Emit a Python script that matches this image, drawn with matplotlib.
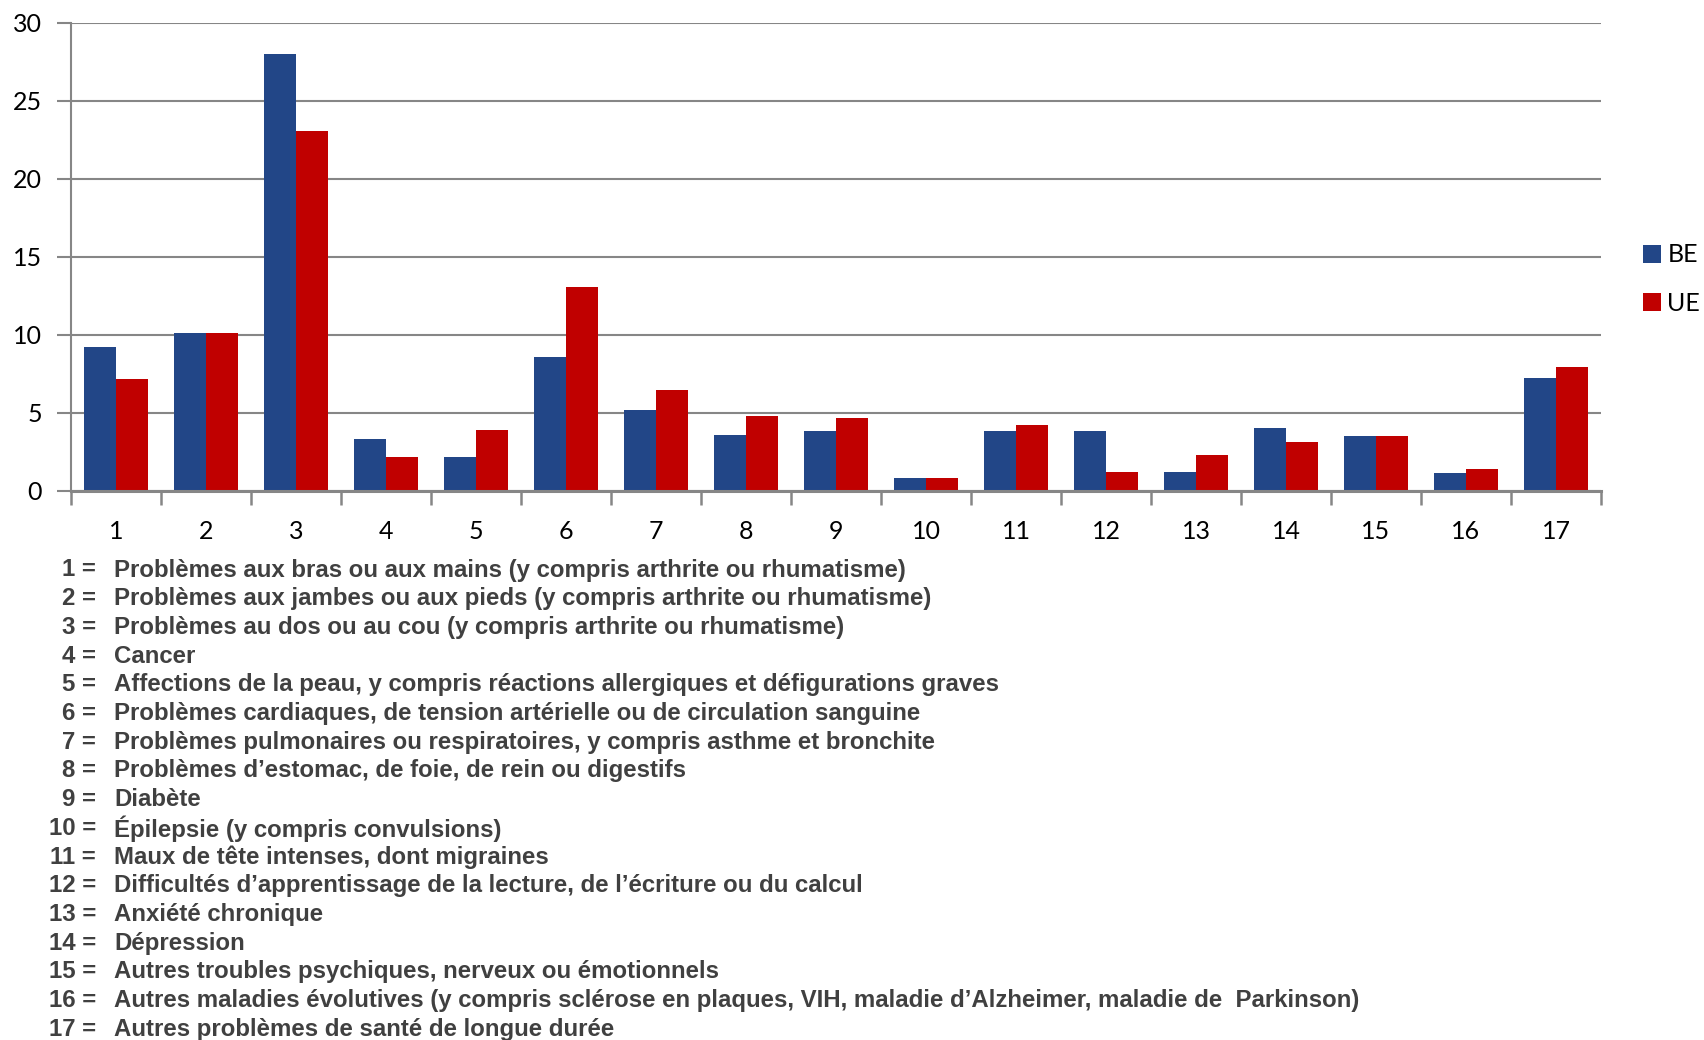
import numpy as np
import matplotlib.pyplot as plt
from matplotlib.ticker import FixedLocator

# Share (%) of people with each long-standing health problem, BE vs UE
categories = [str(i) for i in range(1, 18)]
be_values = [9.2, 10.1, 28.0, 3.35, 2.15, 8.6, 5.2, 3.6, 3.85, 0.83,
             3.85, 3.85, 1.22, 4.05, 3.55, 1.15, 7.25]
ue_values = [7.15, 10.1, 23.1, 2.15, 3.9, 13.05, 6.5, 4.8, 4.7, 0.83,
             4.2, 1.22, 2.3, 3.15, 3.55, 1.42, 7.95]
series_names = ['BE', 'UE']

footnotes = [
    "Problèmes aux bras ou aux mains (y compris arthrite ou rhumatisme)",
    "Problèmes aux jambes ou aux pieds (y compris arthrite ou rhumatisme)",
    "Problèmes au dos ou au cou (y compris arthrite ou rhumatisme)",
    "Cancer",
    "Affections de la peau, y compris réactions allergiques et défigurations graves",
    "Problèmes cardiaques, de tension artérielle ou de circulation sanguine",
    "Problèmes pulmonaires ou respiratoires, y compris asthme et bronchite",
    "Problèmes d’estomac, de foie, de rein ou digestifs",
    "Diabète",
    "Épilepsie (y compris convulsions)",
    "Maux de tête intenses, dont migraines",
    "Difficultés d’apprentissage de la lecture, de l’écriture ou du calcul",
    "Anxiété chronique",
    "Dépression",
    "Autres troubles psychiques, nerveux ou émotionnels",
    "Autres maladies évolutives (y compris sclérose en plaques, VIH, maladie d’Alzheimer, maladie de  Parkinson)",
    "Autres problèmes de santé de longue durée",
]

BLUE = '#224687'
RED = '#C00000'
GREY = '#868686'

W, H = 1704, 1040
fig = plt.figure(figsize=(W / 100, H / 100), dpi=100)
ax = fig.add_axes([71 / W, 1 - 491 / H, (1601 - 71) / W, (491 - 23) / H])

x = np.arange(len(categories))
bw = 0.355
ax.bar(x - bw / 2, be_values, width=bw, color=BLUE, label=series_names[0], zorder=3)
ax.bar(x + bw / 2, ue_values, width=bw, color=RED, label=series_names[1], zorder=3)

ax.set_xlim(-0.5, len(categories) - 0.5)
ax.set_ylim(0, 30)
ax.set_yticks(range(0, 31, 5))
ax.yaxis.grid(True, color=GREY, linewidth=1.5, zorder=0)

# tick marks between categories, labels at the centre
ax.xaxis.set_major_locator(FixedLocator(np.arange(-0.5, len(categories), 1.0)))
ax.xaxis.set_minor_locator(FixedLocator(x))
ax.set_xticklabels([], minor=False)
ax.set_xticklabels(categories, minor=True)
ax.tick_params(axis='x', which='major', length=10, width=1.8, color=GREY, direction='out')
ax.tick_params(axis='x', which='minor', length=0, pad=21)
ax.tick_params(axis='y', length=10, width=1.5, color=GREY, pad=11)
for lab in ax.get_xticklabels(minor=True) + ax.get_yticklabels():
    lab.set_fontfamily('Lato')
    lab.set_fontsize(18)
    lab.set_color('black')

for side in ['top', 'right']:
    ax.spines[side].set_visible(False)
ax.spines['left'].set_color(GREY)
ax.spines['left'].set_linewidth(1.5)
ax.spines['bottom'].set_color(GREY)
ax.spines['bottom'].set_linewidth(2.2)
ax.spines['bottom'].set_zorder(4)

leg = fig.legend(loc='upper left', bbox_to_anchor=(1620 / W, 1 - 221 / H),
                 frameon=False, handlelength=0.74, handleheight=0.74,
                 handletextpad=0.25, labelspacing=1.02,
                 prop={'family': 'Lato', 'size': 18})

# numbered key below the chart
y0 = 1 - 570 / H
step = 28.7 / H
for i, text in enumerate(footnotes):
    yy = y0 - i * step
    fig.text(96 / W, yy, f"{i + 1} =", ha='right', va='center',
             fontsize=17.3, fontweight='bold', color='#404040',
             family='Liberation Sans')
    fig.text(114 / W, yy, text, ha='left', va='center',
             fontsize=17.3, fontweight='bold', color='#404040',
             family='Liberation Sans')

fig.savefig('out.png', dpi=100)
